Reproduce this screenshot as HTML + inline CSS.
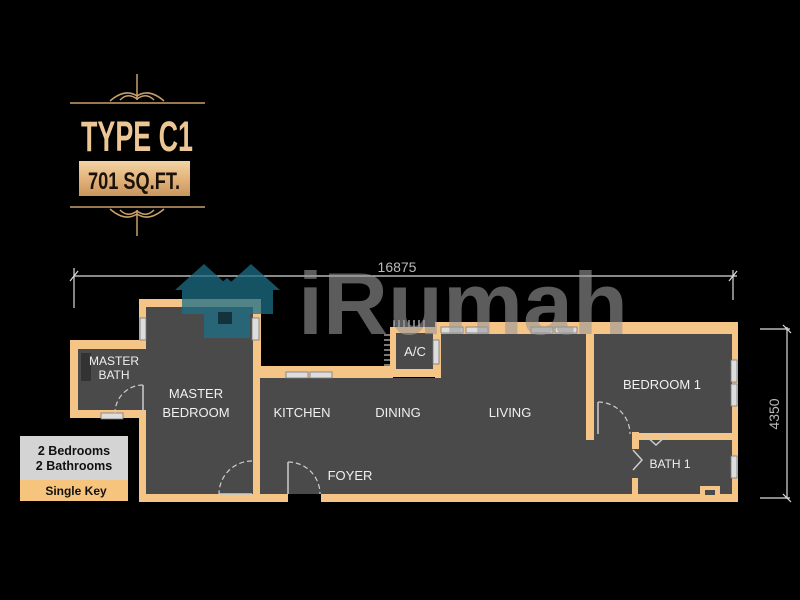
<!DOCTYPE html>
<html><head><style>
html,body{margin:0;padding:0;background:#000;}
svg{display:block}
text{font-family:"Liberation Sans",sans-serif;}
</style></head><body>
<svg width="800" height="600" viewBox="0 0 800 600" xmlns="http://www.w3.org/2000/svg">
<defs>
<linearGradient id="gold" x1="0" y1="0" x2="0" y2="1">
<stop offset="0" stop-color="#f3d3a4"/><stop offset="0.5" stop-color="#e3b47c"/><stop offset="1" stop-color="#c9955d"/>
</linearGradient>
</defs>
<rect width="800" height="600" fill="#000"/>
<g stroke="#c9a06a" fill="none" stroke-width="1.5">
<line x1="70" y1="103" x2="205" y2="103"/>
<line x1="70" y1="207" x2="205" y2="207"/>
<path d="M110 101 Q125 88 137 96 Q149 88 164 101"/>
<path d="M120 100 Q128 92 137 99 Q146 92 154 100"/>
<line x1="137" y1="74" x2="137" y2="100"/>
<path d="M110 209 Q125 222 137 214 Q149 222 164 209"/>
<path d="M120 210 Q128 218 137 211 Q146 218 154 210"/>
<line x1="137" y1="210" x2="137" y2="236"/>
</g>
<text x="137" y="151" text-anchor="middle" font-family="Liberation Sans Narrow, Liberation Sans, sans-serif" font-weight="bold" font-size="43" fill="#ecc694" textLength="112" lengthAdjust="spacingAndGlyphs">TYPE C1</text>
<rect x="79" y="161" width="111" height="35" fill="url(#gold)"/>
<text x="134" y="189" text-anchor="middle" font-family="Liberation Sans Narrow, Liberation Sans, sans-serif" font-weight="bold" font-size="24" fill="#1a120a" textLength="92" lengthAdjust="spacingAndGlyphs">701 SQ.FT.</text>

<g stroke="#ddd" stroke-width="1.2" fill="none">
<line x1="74" y1="276" x2="737" y2="276"/>
<line x1="74" y1="268" x2="74" y2="308"/>
<line x1="70" y1="281" x2="78" y2="271"/>
<line x1="733" y1="270" x2="733" y2="300"/>
<line x1="729" y1="281" x2="737" y2="271"/>
<line x1="787" y1="327" x2="787" y2="498"/>
<line x1="760" y1="329" x2="790" y2="329"/>
<line x1="760" y1="498" x2="790" y2="498"/>
<line x1="783" y1="325" x2="791" y2="333"/>
<line x1="783" y1="494" x2="791" y2="502"/>
</g>
<text x="397" y="272" text-anchor="middle" font-size="14" fill="#bbb">16875</text>
<text transform="translate(779,414) rotate(-90)" text-anchor="middle" font-size="14" fill="#bbb">4350</text>

<g fill="#f5c487">
<rect x="139" y="299" width="122" height="203"/>
<rect x="70" y="340" width="80" height="78"/>
<rect x="253" y="366" width="140" height="136"/>
<rect x="390" y="327" width="51" height="50"/>
<rect x="435" y="322" width="303" height="180"/>
<rect x="253" y="480" width="485" height="22"/>
</g>
<g fill="#4a4a4a">
<rect x="146" y="307" width="107" height="187"/>
<rect x="78" y="349" width="68" height="61"/>
<rect x="260" y="378" width="472" height="116"/>
<rect x="396" y="333" width="37" height="36"/>
<rect x="441" y="334" width="145" height="50"/>
<rect x="594" y="334" width="138" height="100"/>
<rect x="586" y="440" width="146" height="54"/>
</g>
<g fill="#f5c487">
<rect x="638" y="433" width="94" height="7"/>
<rect x="586" y="330" width="8" height="110"/>
<rect x="632" y="478" width="6" height="20"/>
<rect x="632" y="432" width="7" height="17"/>
<rect x="253" y="378" width="7" height="83"/>
<rect x="700" y="486" width="20" height="10"/>
</g>
<rect x="705" y="490" width="10" height="5" fill="#4a4a4a"/>
<rect x="81" y="353" width="10" height="28" fill="#333"/>
<g fill="#ddd" stroke="#777" stroke-width="0.8">
<rect x="140" y="318" width="6" height="22"/>
<rect x="252" y="318" width="7" height="22"/>
<rect x="286" y="372" width="22" height="6"/>
<rect x="310" y="372" width="22" height="6"/>
<rect x="441" y="327" width="22" height="6"/>
<rect x="466" y="327" width="22" height="6"/>
<rect x="531" y="327" width="22" height="6"/>
<rect x="555" y="327" width="22" height="6"/>
<rect x="433" y="340" width="6" height="24"/>
<rect x="731" y="360" width="6" height="22"/>
<rect x="731" y="384" width="6" height="22"/>
<rect x="731" y="456" width="6" height="22"/>
<rect x="101" y="413" width="22" height="6"/>
</g>
<g stroke="#eee" stroke-width="1">
<line x1="394" y1="320" x2="394" y2="327"/><line x1="399" y1="320" x2="399" y2="327"/><line x1="404" y1="320" x2="404" y2="327"/><line x1="409" y1="320" x2="409" y2="327"/><line x1="414" y1="320" x2="414" y2="327"/><line x1="419" y1="320" x2="419" y2="327"/><line x1="424" y1="320" x2="424" y2="327"/>
<line x1="384" y1="335" x2="390" y2="335"/><line x1="384" y1="340" x2="390" y2="340"/><line x1="384" y1="345" x2="390" y2="345"/><line x1="384" y1="350" x2="390" y2="350"/><line x1="384" y1="355" x2="390" y2="355"/><line x1="384" y1="360" x2="390" y2="360"/><line x1="384" y1="365" x2="390" y2="365"/>
</g>
<g stroke="#ccc" stroke-width="1.2" fill="none" stroke-dasharray="5,3">
<path d="M143 385 A 28 28 0 0 0 115 413"/>
<path d="M252 461 A 33 33 0 0 0 219 494"/>
<path d="M288 462 A 32 32 0 0 1 320 494"/>
<path d="M598 402 A 32 32 0 0 1 630 434"/>
</g>
<g stroke="#ccc" stroke-width="1.5" fill="none">
<line x1="143" y1="385" x2="143" y2="413"/>
<line x1="219" y1="494" x2="252" y2="494"/>
<line x1="288" y1="462" x2="288" y2="494"/>
<line x1="598" y1="402" x2="598" y2="434"/>
<path d="M645 435 L656 445 L667 435"/>
<path d="M633 450 L642 460 L633 470"/>
</g>
<rect x="288" y="494" width="33" height="8" fill="#000"/>
<g fill="#f0f0f0" font-size="13" text-anchor="middle">
<text x="114" y="365" font-size="12">MASTER</text>
<text x="114" y="379" font-size="12">BATH</text>
<text x="196" y="398">MASTER</text>
<text x="196" y="417">BEDROOM</text>
<text x="302" y="417">KITCHEN</text>
<text x="398" y="417">DINING</text>
<text x="510" y="417">LIVING</text>
<text x="662" y="389">BEDROOM 1</text>
<text x="670" y="468" font-size="12">BATH 1</text>
<text x="350" y="480">FOYER</text>
<text x="415" y="356">A/C</text>
</g>
<rect x="20" y="436" width="108" height="44" fill="#d4d4d4"/>
<rect x="20" y="480" width="108" height="21" fill="#f7c47e"/>
<g fill="#111" font-size="12.5" font-weight="bold" text-anchor="middle">
<text x="74" y="455">2 Bedrooms</text>
<text x="74" y="470">2 Bathrooms</text>
<text x="76" y="495" font-size="12">Single Key</text>
</g>
<g fill="#1c6e86" opacity="0.75">
<path d="M175 290 L204 264 L233 290 L226 290 L226 314 L182 314 L182 290 Z"/>
<path d="M222 290 L251 264 L280 290 L273 290 L273 314 L229 314 L229 290 Z"/>
<path d="M196 305 L227 278 L258 305 L250 305 L250 338 L204 338 L204 305 Z"/>
</g>
<rect x="218" y="312" width="14" height="12" fill="#000" opacity="0.5"/>
<text x="298" y="334" font-size="88" font-weight="bold" fill="#9a9a9a" opacity="0.6" textLength="330" lengthAdjust="spacingAndGlyphs">iRumah</text>
</svg>
</body></html>
